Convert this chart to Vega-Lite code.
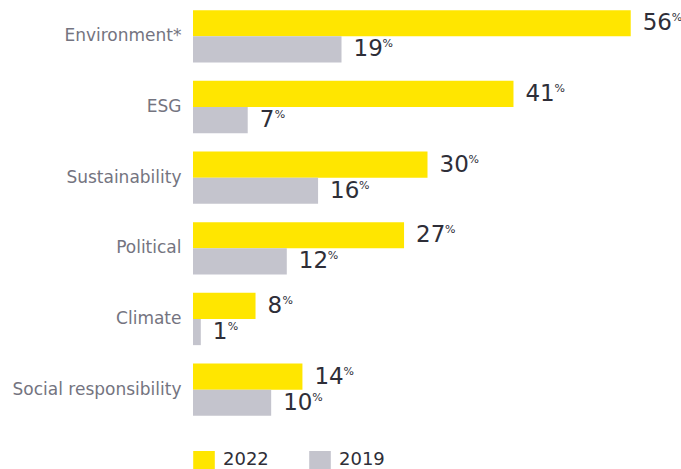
{
  "$schema": "https://vega.github.io/schema/vega-lite/v6.json",
  "width": 469,
  "height": 424,
  "autosize": {"type": "none"},
  "padding": {"left": 193, "top": 1, "right": 19, "bottom": 44},
  "config": {"view": {"stroke": null}, "font": "DejaVu Sans"},
  "data": {
    "values": [
      {"category": "Environment*", "year": "2022", "value": 56},
      {"category": "Environment*", "year": "2019", "value": 19},
      {"category": "ESG", "year": "2022", "value": 41},
      {"category": "ESG", "year": "2019", "value": 7},
      {"category": "Sustainability", "year": "2022", "value": 30},
      {"category": "Sustainability", "year": "2019", "value": 16},
      {"category": "Political", "year": "2022", "value": 27},
      {"category": "Political", "year": "2019", "value": 12},
      {"category": "Climate", "year": "2022", "value": 8},
      {"category": "Climate", "year": "2019", "value": 1},
      {"category": "Social responsibility", "year": "2022", "value": 14},
      {"category": "Social responsibility", "year": "2019", "value": 10}
    ]
  },
  "encoding": {
    "y": {
      "field": "category",
      "type": "nominal",
      "sort": ["Environment*", "ESG", "Sustainability", "Political", "Climate", "Social responsibility"],
      "scale": {"paddingInner": 0.26, "paddingOuter": 0.13},
      "axis": {"title": null, "domain": false, "ticks": false, "labelPadding": 12, "labelFontSize": 17, "labelColor": "#747480", "labelFont": "DejaVu Sans"}
    },
    "yOffset": {"field": "year", "type": "nominal", "sort": ["2022", "2019"]},
    "x": {"field": "value", "type": "quantitative", "scale": {"domain": [0, 60]}, "axis": null}
  },
  "layer": [
    {
      "mark": {"type": "bar"},
      "encoding": {
        "color": {
          "field": "year",
          "type": "nominal",
          "sort": ["2022", "2019"],
          "scale": {"domain": ["2022", "2019"], "range": ["#FFE600", "#C4C4CD"]},
          "legend": {
            "title": null,
            "orient": "none",
            "legendX": 2,
            "legendY": 450,
            "direction": "horizontal",
            "padding": 0,
            "symbolType": "M-1.2,-1H1.2V1H-1.2Z",
            "symbolSize": 324,
            "symbolStrokeWidth": 0,
            "symbolOpacity": 1,
            "labelFontSize": 18,
            "labelFont": "DejaVu Sans",
            "labelColor": "#2E2E38",
            "labelOffset": 10,
            "columnPadding": 40
          }
        }
      }
    },
    {
      "mark": {"type": "text", "align": "left", "baseline": "middle", "dx": 12, "fontSize": 23, "color": "#2E2E38"},
      "encoding": {"text": {"field": "value", "type": "quantitative"}}
    },
    {
      "mark": {"type": "text", "align": "left", "baseline": "middle", "dx": {"expr": "datum.value >= 10 ? 41 : 27"}, "dy": -5, "fontSize": 11, "color": "#2E2E38"},
      "encoding": {"text": {"value": "%"}}
    }
  ]
}
